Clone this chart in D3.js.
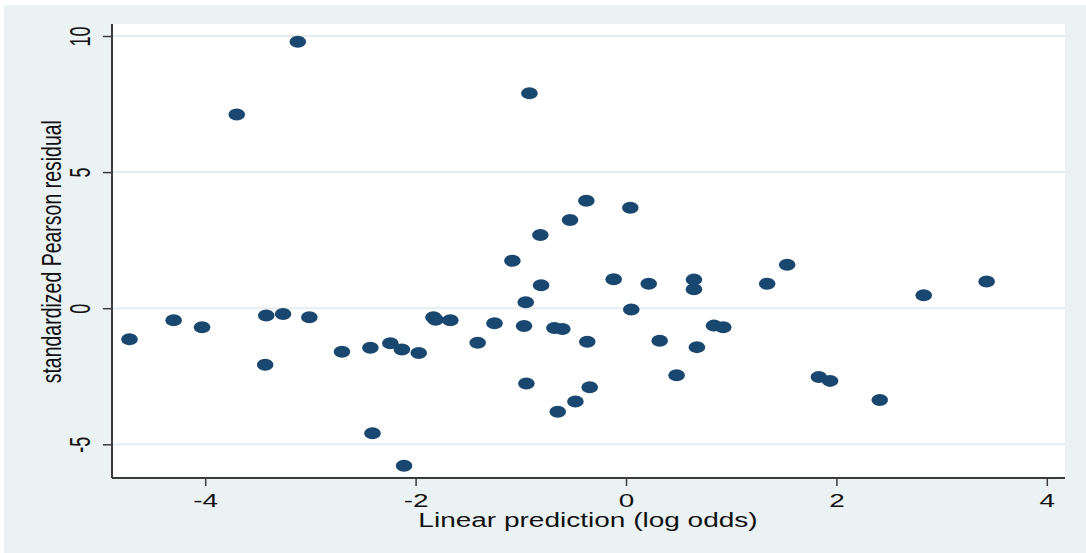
<!DOCTYPE html>
<html>
<head>
<meta charset="utf-8">
<script src="https://cdn.jsdelivr.net/npm/d3@7"></script>
<style>
  html, body { margin: 0; padding: 0; background: #ffffff; }
  svg { display: block; }
  text { font-family: "Liberation Sans", Arial, sans-serif; fill: #111; }
</style>
</head>
<body>
<svg id="chart" width="1086" height="553"></svg>
<script>
// Linear prediction (log odds) for each observation
const linearPrediction = [
  -3.12, -3.70, -0.918, -0.377, 0.041, -0.532, -0.814,
  -4.72, -4.30, -4.03, -3.42, -3.26, -3.01, -3.43, -2.70, -2.43, -2.24, -2.13, -1.97, -2.41, -2.11,
  -1.83, -1.81,
  -1.08, -0.807, -0.953, -1.67, -1.25, -1.41, -0.969, -0.681, -0.605, -0.368, -0.117, 0.050, 0.216,
  0.646, 0.646, 0.320, 0.674, 0.836, 0.924, 0.481, -0.947, -0.345, -0.481, -0.649,
  1.342, 1.532, 2.830, 3.428, 1.833, 1.940, 2.412
];
// Standardized Pearson residual for the same observations
const pearsonResidual = [
  9.79, 7.12, 7.90, 3.95, 3.69, 3.24, 2.69,
  -1.14, -0.44, -0.70, -0.27, -0.21, -0.33, -2.08, -1.60, -1.45, -1.29, -1.52, -1.65, -4.59, -5.79,
  -0.33, -0.42,
  1.74, 0.84, 0.22, -0.44, -0.55, -1.27, -0.65, -0.73, -0.76, -1.23, 1.06, -0.05, 0.90,
  1.05, 0.70, -1.20, -1.43, -0.64, -0.70, -2.46, -2.77, -2.90, -3.43, -3.80,
  0.90, 1.60, 0.48, 0.98, -2.53, -2.67, -3.37
];
const xTicks = [-4, -2, 0, 2, 4];
const yTicks = [-5, 0, 5, 10];
const xTitle = "Linear prediction (log odds)";
const yTitle = "standardized Pearson residual";

const svg = d3.select("#chart");
const W = 1086, H = 553;
const plot = { left: 112, right: 1065, top: 24, bottom: 478 };

// Graph region and plot region backgrounds
svg.append("rect").attr("x", 4).attr("y", 5).attr("width", W - 4).attr("height", H - 5)
  .attr("fill", "#eaf2f3");
svg.append("rect").attr("x", plot.left).attr("y", plot.top)
  .attr("width", plot.right - plot.left).attr("height", plot.bottom - plot.top)
  .attr("fill", "#ffffff");

const x = d3.scaleLinear().domain([-4.886, 4.173]).range([plot.left, plot.right]);
const y = d3.scaleLinear().domain([-6.238, 10.441]).range([plot.bottom, plot.top]);

// Horizontal grid lines
svg.append("g").selectAll("line").data(yTicks).join("line")
  .attr("x1", plot.left).attr("x2", plot.right)
  .attr("y1", d => y(d)).attr("y2", d => y(d))
  .attr("stroke", "#e4eef0").attr("stroke-width", 2);

// Markers
const pts = linearPrediction.map((v, i) => ({ x: v, y: pearsonResidual[i] }));
svg.append("g").selectAll("ellipse").data(pts).join("ellipse")
  .attr("cx", d => x(d.x)).attr("cy", d => y(d.y))
  .attr("rx", 8.3).attr("ry", 6)
  .attr("fill", "#1a476f");

const fmt = d => String(d);

// Y axis
const gy = svg.append("g").attr("transform", `translate(${plot.left},0)`)
  .call(d3.axisLeft(y).tickValues(yTicks).tickFormat(fmt).tickSize(9).tickSizeOuter(0));
gy.select(".domain").attr("stroke", "#3a3a3a").attr("stroke-width", 2)
  .attr("d", `M0,${plot.top}V${plot.bottom}`);
gy.selectAll(".tick line").attr("stroke", "#3a3a3a").attr("stroke-width", 1.5);
gy.selectAll(".tick text")
  .attr("x", 0).attr("dy", null).attr("y", 0)
  .attr("text-anchor", "middle")
  .attr("font-size", 18)
  .attr("fill", "#111")
  .attr("transform", "translate(-22,0) scale(1.6,1) rotate(-90)");

// X axis
const gx = svg.append("g").attr("transform", `translate(0,${plot.bottom})`)
  .call(d3.axisBottom(x).tickValues(xTicks).tickFormat(fmt).tickSize(8).tickSizeOuter(0));
gx.select(".domain").attr("stroke", "#3a3a3a").attr("stroke-width", 2)
  .attr("d", `M${plot.left},0H${plot.right}`);
gx.selectAll(".tick line").attr("stroke", "#3a3a3a").attr("stroke-width", 1.5);
gx.selectAll(".tick text")
  .attr("y", 0).attr("dy", null)
  .attr("text-anchor", "middle")
  .attr("font-size", 18)
  .attr("fill", "#111")
  .attr("transform", "translate(0,28.5) scale(1.55,1)");

// Axis titles
svg.append("text")
  .attr("text-anchor", "middle").attr("font-size", 20)
  .attr("transform", "translate(588,526.5) scale(1.4,1)")
  .text(xTitle);
svg.append("text")
  .attr("text-anchor", "middle").attr("font-size", 19.5)
  .attr("transform", "translate(61,251.7) scale(1.45,1) rotate(-90)")
  .text(yTitle);
</script>
</body>
</html>
